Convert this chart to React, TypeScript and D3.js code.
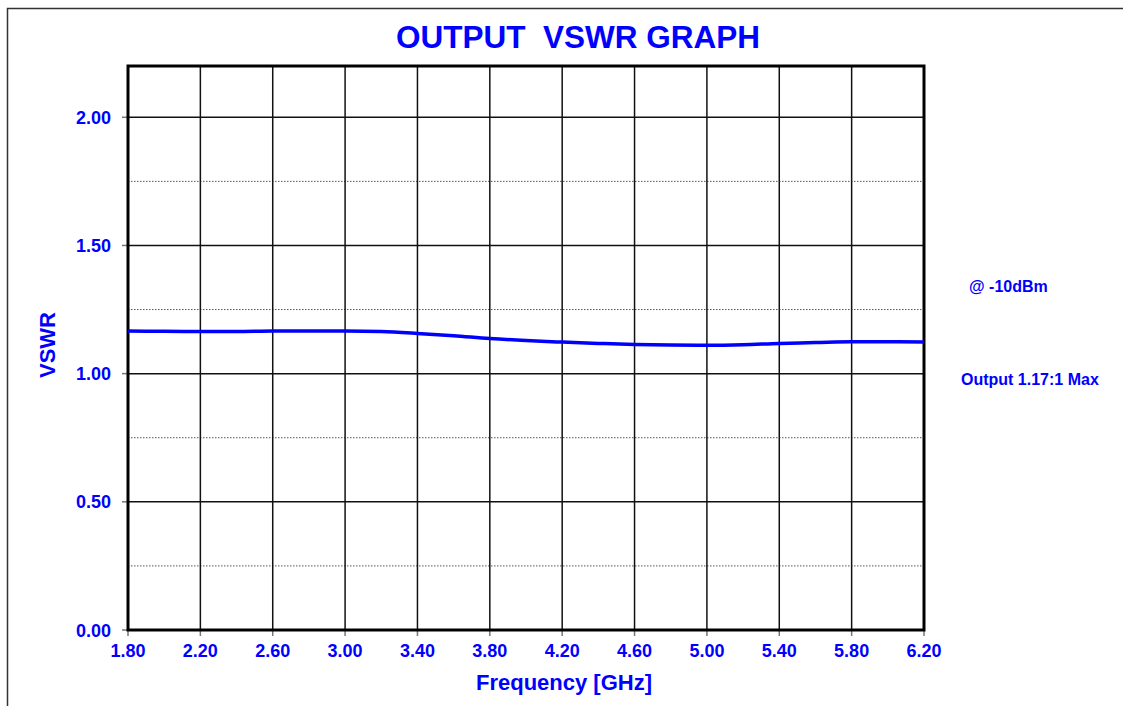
import React from "react";
import * as d3 from "d3";

const freqGHz = [1.8, 2.0, 2.2, 2.4, 2.6, 2.8, 3.0, 3.2, 3.4, 3.6, 3.8, 4.0, 4.2, 4.4, 4.6, 4.8, 5.0, 5.2, 5.4, 5.6, 5.8, 6.0, 6.2];
const vswr = [1.166, 1.165, 1.164, 1.164, 1.166, 1.166, 1.166, 1.164, 1.157, 1.148, 1.137, 1.129, 1.123, 1.118, 1.114, 1.112, 1.111, 1.113, 1.118, 1.121, 1.124, 1.124, 1.123];
const xTicks = [1.8, 2.2, 2.6, 3.0, 3.4, 3.8, 4.2, 4.6, 5.0, 5.4, 5.8, 6.2];
const yTicks = [0, 0.5, 1.0, 1.5, 2.0];
const yMinor = [0.25, 0.75, 1.25, 1.75];
const title = "OUTPUT  VSWR GRAPH";
const xTitle = "Frequency [GHz]";
const yTitle = "VSWR";
const notes = ["@ -10dBm", "Output 1.17:1 Max"];

const W = 1123;
const H = 706;
const L = 128, R = 924, T = 66, B = 630;
const BLUE = "#0000ff";
const FONT = "'Liberation Sans', Arial, sans-serif";

export default function App() {
  const x = d3.scaleLinear().domain([1.8, 6.2]).range([L, R]);
  const y = d3.scaleLinear().domain([0, 2.2]).range([B, T]);
  const line = d3
    .line<number>()
    .x((_, i) => x(freqGHz[i]))
    .y((d) => y(d))
    .curve(d3.curveMonotoneX);
  const path = line(vswr) || "";

  return (
    <svg
      width={W}
      height={H}
      style={{ position: "fixed", left: 0, top: 0, background: "#fff" }}
      fontFamily={FONT}
      fontWeight="bold"
    >
      <rect x={0} y={0} width={W} height={H} fill="#fff" />
      <rect x={7.5} y={8.5} width={W + 10} height={H + 10} fill="none" stroke="#333" strokeWidth={1.5} />
      <text x={578} y={48} textAnchor="middle" fontSize={31.5} fill={BLUE} style={{ whiteSpace: "pre" }}>
        {title}
      </text>

      {/* minor dotted grid */}
      {yMinor.map((v) => (
        <line key={"m" + v} x1={L} x2={R} y1={y(v)} y2={y(v)} stroke="#555" strokeWidth={1} strokeDasharray="1.5,1.5" />
      ))}
      {/* major horizontal grid */}
      {yTicks.map((v) => (
        <line key={"h" + v} x1={L} x2={R} y1={y(v)} y2={y(v)} stroke="#111" strokeWidth={1.5} />
      ))}
      {/* vertical grid */}
      {xTicks.map((v) => (
        <line key={"v" + v} x1={x(v)} x2={x(v)} y1={T} y2={B} stroke="#111" strokeWidth={1.5} />
      ))}
      {/* tick stubs gray */}
      {yTicks.map((v) => (
        <line key={"ty" + v} x1={L - 6} x2={L} y1={y(v)} y2={y(v)} stroke="#777" strokeWidth={1.5} />
      ))}
      {xTicks.map((v) => (
        <line key={"tx" + v} x1={x(v)} x2={x(v)} y1={B} y2={B + 6} stroke="#777" strokeWidth={1.5} />
      ))}
      {/* plot border */}
      <rect x={L} y={T} width={R - L} height={B - T} fill="none" stroke="#000" strokeWidth={3} />

      <path d={path} fill="none" stroke={BLUE} strokeWidth={3.5} />

      {yTicks.map((v) => (
        <text key={"yl" + v} x={111} y={y(v) + 6.5} textAnchor="end" fontSize={18} fill={BLUE}>
          {v.toFixed(2)}
        </text>
      ))}
      {xTicks.map((v) => (
        <text key={"xl" + v} x={x(v)} y={657} textAnchor="middle" fontSize={18} fill={BLUE}>
          {v.toFixed(2)}
        </text>
      ))}
      <text x={564} y={690} textAnchor="middle" fontSize={22} fill={BLUE}>
        {xTitle}
      </text>
      <text
        transform={`translate(55,345) rotate(-90)`}
        textAnchor="middle"
        fontSize={22}
        fill={BLUE}
      >
        {yTitle}
      </text>
      <text x={969} y={292} fontSize={16} fill={BLUE}>
        {notes[0]}
      </text>
      <text x={961} y={385} fontSize={16} fill={BLUE}>
        {notes[1]}
      </text>
    </svg>
  );
}
